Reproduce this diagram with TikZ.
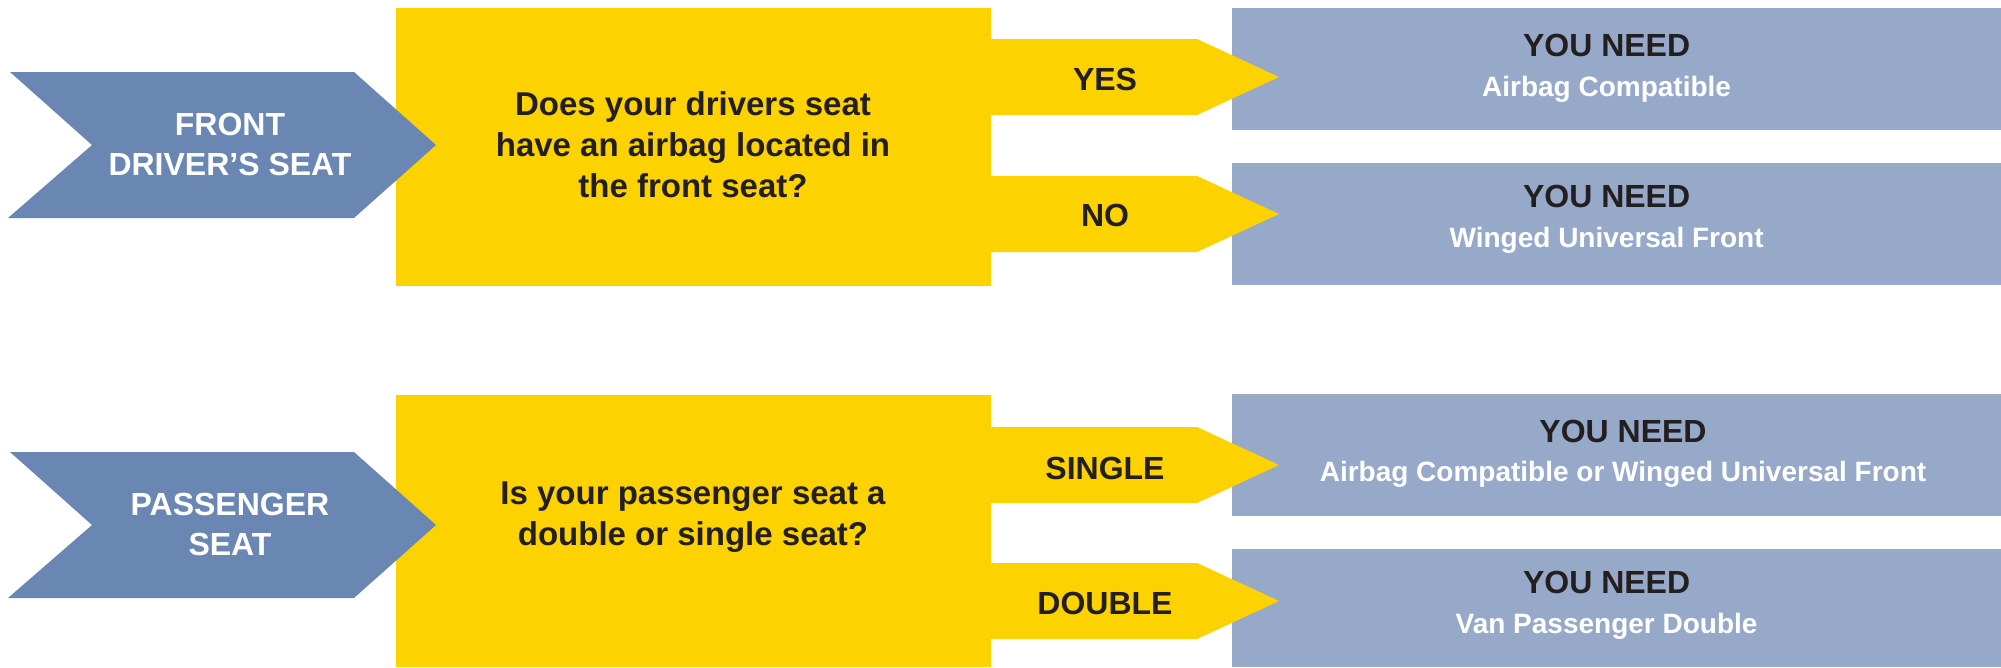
\documentclass[tikz,border=0pt]{standalone}
\usepackage{fontspec}
\setmainfont{Liberation Sans}
\definecolor{chev}{RGB}{105,135,178}
\definecolor{resbox}{RGB}{151,169,201}
\definecolor{yel}{RGB}{252,210,0}
\definecolor{ink}{RGB}{35,31,32}
\begin{document}
\begin{tikzpicture}[x=1pt,y=-1pt,
  qbox/.style={fill=yel, inner sep=0pt, minimum width=595pt, anchor=north west},
  rbox/.style={fill=resbox, inner sep=0pt, minimum width=769.5pt, anchor=north west},
  chevron/.style={fill=chev},
  branch/.style={fill=yel},
  bigtxt/.style={font=\fontsize{32}{40}\selectfont\bfseries, inner sep=0pt, align=center},
  lbl/.style={bigtxt, text=white},
  qtxt/.style={font=\fontsize{33}{41}\selectfont\bfseries, inner sep=0pt, align=center, text=ink},
  branchtxt/.style={bigtxt, text=ink, anchor=base},
  needtxt/.style={bigtxt, text=ink, anchor=base},
  prodtxt/.style={font=\fontsize{28}{34}\selectfont\bfseries, inner sep=0pt, text=white, anchor=base}]
\useasboundingbox (0,0) rectangle (2001,667);

% question boxes
\node[qbox, minimum height=278pt] (q1) at (396,8) {};
\node[qbox, minimum height=272pt] (q2) at (396,395) {};

% result boxes
\node[rbox, minimum height=121.7pt] (r1) at (1231.5,8) {};
\node[rbox, minimum height=121.7pt] (r2) at (1231.5,163) {};
\node[rbox, minimum height=121.7pt] (r3) at (1231.5,394) {};
\node[rbox, minimum height=118pt] (r4) at (1231.5,549) {};

% branch arrows
\fill[branch] (990,39) -- (1197,39) -- (1279,77) -- (1197,115) -- (990,115) -- cycle;
\fill[branch] (990,176) -- (1197,176) -- (1279,214) -- (1197,252) -- (990,252) -- cycle;
\fill[branch] (990,427) -- (1197,427) -- (1279,465) -- (1197,503) -- (990,503) -- cycle;
\fill[branch] (990,563) -- (1197,563) -- (1279,601) -- (1197,639) -- (990,639) -- cycle;

% chevrons
\fill[chevron] (10,72) -- (354,72) -- (436,145) -- (354,218) -- (8,218) -- (92,145) -- cycle;
\fill[chevron] (10,452) -- (354,452) -- (436,525) -- (354,598) -- (8,598) -- (92,525) -- cycle;

% chevron labels
\node[lbl] (c1) at (230,144) {FRONT\\DRIVER'S SEAT};
\node[lbl] (c2) at (230,524) {PASSENGER\\SEAT};

% questions
\node[qtxt] (q1t) at (693,145) {Does your drivers seat\\have an airbag located in\\the front seat?};
\node[qtxt] (q2t) at (693,517) {Is your passenger seat a\\double or single seat?};

% branch labels
\node[branchtxt] (yes) at (1105,90.7) {YES};
\node[branchtxt] (no) at (1105,226.7) {NO};
\node[branchtxt] (single) at (1105,479) {SINGLE};
\node[branchtxt] (double) at (1105,614.7) {DOUBLE};

% results
\node[needtxt] (r1h) at (1606.6,56.7) {YOU NEED};
\node[prodtxt] (r1t) at (1606.6,96.7) {Airbag Compatible};
\node[needtxt] (r2h) at (1606.6,207.3) {YOU NEED};
\node[prodtxt] (r2t) at (1606.6,247.3) {Winged Universal Front};
\node[needtxt] (r3h) at (1623,442.3) {YOU NEED};
\node[prodtxt] (r3t) at (1623,481.7) {Airbag Compatible or Winged Universal Front};
\node[needtxt] (r4h) at (1606.6,593.3) {YOU NEED};
\node[prodtxt] (r4t) at (1606.6,633.3) {Van Passenger Double};
\end{tikzpicture}
\end{document}
